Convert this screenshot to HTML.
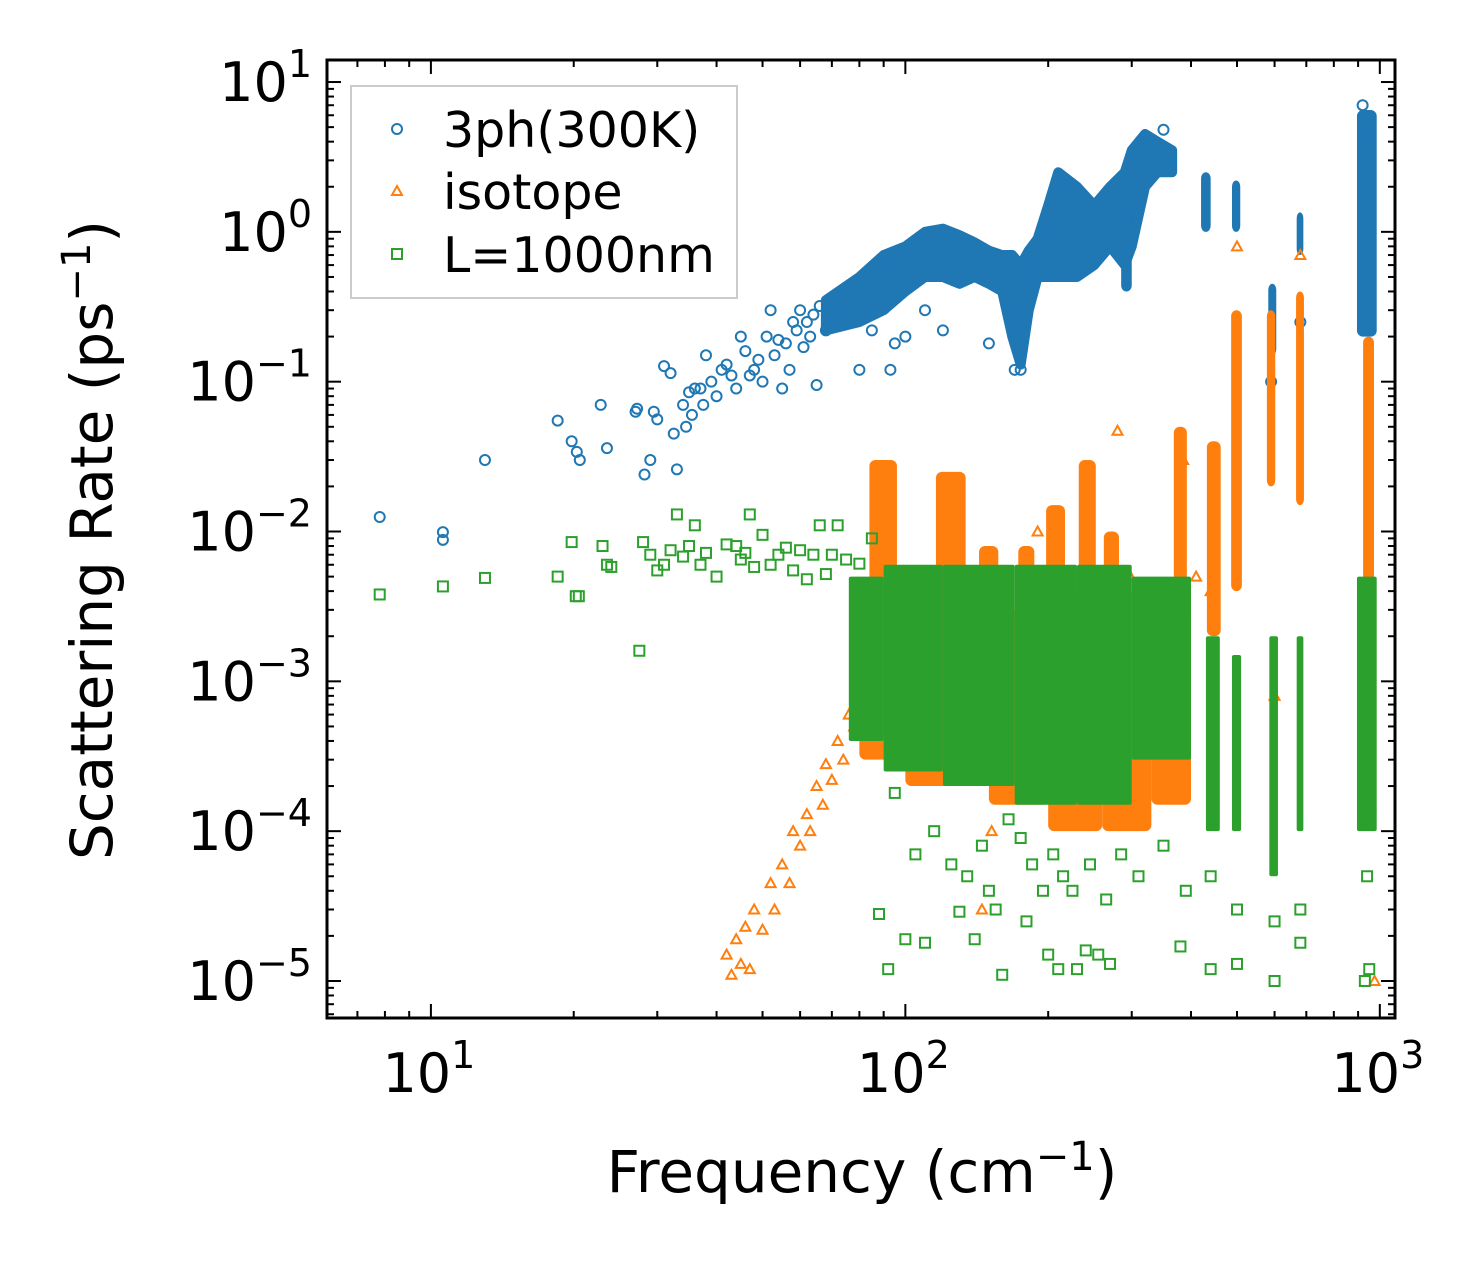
<!DOCTYPE html>
<html><head><meta charset="utf-8">
<style>
html,body{margin:0;padding:0;background:#fff;}
svg{display:block;font-family:"DejaVu Sans","Liberation Sans",sans-serif;}
</style></head>
<body>
<svg id="chart" width="1459" height="1267" viewBox="0 0 1459 1267" xmlns="http://www.w3.org/2000/svg">
<rect width="1459" height="1267" fill="#fff"/>
<g id="marks"></g>
<g id="axes"></g>
<text x="862" y="1192" font-size="58" text-anchor="middle">Frequency (cm<tspan dy="-22" font-size="40">−1</tspan><tspan dy="22">)</tspan></text>
<text transform="translate(112,540) rotate(-90)" font-size="58" text-anchor="middle">Scattering Rate (ps<tspan dy="-22" font-size="40">−1</tspan><tspan dy="22">)</tspan></text>
<g>
<rect x="351" y="86" width="386" height="212" fill="#fff" fill-opacity="0.8" stroke="#ccc" stroke-width="2"/>
<g><circle cx="397" cy="129" r="5" fill="none" stroke="#1f77b4" stroke-width="2"/><text x="443" y="147" font-size="49">3ph(300K)</text></g>
<g><polygon points="397,186 402,195 392,195" fill="none" stroke="#ff7f0e" stroke-width="2"/><text x="443" y="209" font-size="49">isotope</text></g>
<g><rect x="392" y="249" width="10" height="10" fill="none" stroke="#2ca02c" stroke-width="2"/><text x="443" y="272" font-size="49">L=1000nm</text></g>
</g>
</svg>
<script>
// axis domain
const xLogMin = 0.781, xLogMax = 3.032, yLogMin = -5.247, yLogMax = 1.147;
const xTickExp = [1,2,3];
const yTickExp = [1,0,-1,-2,-3,-4,-5];
// blue (3ph) envelope: freq, low, high
const blueEnvF  = [68,80,90,100,110,120,130,140,150,160,168,175,182,190,200,210,230,250,270,290,300,320,340,365];
const blueEnvLo = [0.22,0.25,0.3,0.4,0.5,0.5,0.45,0.5,0.45,0.4,0.2,0.13,0.3,0.5,0.5,0.5,0.5,0.6,0.8,0.6,0.8,2.0,2.5,2.5];
const blueEnvHi = [0.35,0.5,0.7,0.8,1.0,1.05,0.95,0.85,0.75,0.7,0.7,0.6,0.75,0.9,1.5,2.5,2.0,1.5,2.0,2.5,3.5,4.5,4.0,3.5];
// blue column bands: fLo,fHi,vLo,vHi
const blueBandF1 = [285,420,488,582,668,895];
const blueBandF2 = [300,440,508,605,690,985];
const blueBandV1 = [0.4,1.0,1.0,0.15,0.7,0.2];
const blueBandV2 = [1.5,2.5,2.2,0.45,1.35,6.5];
// sparse blue points
const blueF = [7.8,10.6,10.6,13,18.5,19.8,20.3,20.6,22.8,23.5,27,27.2,28.2,29,29.5,30,31,32,32.5,33,34,34.5,35,35.5,36,37,37.5,38,39,40,41,42,43,44,45,46,47,48,49,50,51,52,53,54,55,56,57,58,59,60,61,62,63,64,65,66,68,70,72,75,80,85,93,95,100,110,120,150,170,175,350,590,680,920,940];
const blueV = [0.0125,0.0099,0.0088,0.03,0.055,0.04,0.034,0.03,0.07,0.036,0.063,0.066,0.024,0.03,0.063,0.056,0.127,0.114,0.045,0.026,0.07,0.05,0.085,0.06,0.09,0.09,0.07,0.15,0.1,0.08,0.12,0.13,0.11,0.09,0.2,0.16,0.11,0.12,0.14,0.1,0.2,0.3,0.15,0.19,0.09,0.18,0.12,0.25,0.22,0.3,0.17,0.25,0.2,0.28,0.095,0.32,0.22,0.26,0.3,0.35,0.12,0.22,0.12,0.18,0.2,0.3,0.22,0.18,0.12,0.12,4.8,0.1,0.25,7.0,4.5];
// orange (isotope) bands
const orBandF1 = [84,116,143,173,198,232,262,368,432,486,578,666,922,80,100,150,200,260,330];
const orBandF2 = [96,134,157,187,217,252,282,392,462,512,602,692,972,100,150,200,260,330,400];
const orBandV1 = [0.0008,0.0015,0.0015,0.0015,0.0008,0.0008,0.0015,0.0015,0.002,0.004,0.02,0.015,0.0008,3e-4,2e-4,1.5e-4,1e-4,1e-4,1.5e-4];
const orBandV2 = [0.03,0.025,0.008,0.008,0.015,0.03,0.01,0.05,0.04,0.3,0.3,0.4,0.2,0.002,0.003,0.003,0.004,0.004,0.003];
// orange sparse points
const orF = [42,43,44,45,46,47,48,50,52,53,55,57,58,60,62,63,65,67,68,70,72,74,76,78,80,82,84,145,152,168,190,260,280,298,385,410,440,500,600,680,955,975];
const orV = [1.5e-5,1.1e-5,1.9e-5,1.3e-5,2.3e-5,1.2e-5,3e-5,2.2e-5,4.5e-5,3e-5,6e-5,4.5e-5,1e-4,8e-5,1.3e-4,1e-4,2e-4,1.5e-4,2.8e-4,2.2e-4,4e-4,3e-4,6e-4,5e-4,8e-4,1e-3,7e-4,3e-5,1e-4,4.5e-4,0.01,0.005,0.047,0.005,0.03,0.005,0.004,0.8,0.0008,0.7,1.5e-4,1e-5];
// green (boundary) bands
const grBandF1 = [76,90,120,170,230,300,430,488,585,668,895];
const grBandF2 = [90,120,170,230,300,400,460,510,610,690,985];
const grBandV1 = [4e-4,2.5e-4,2e-4,1.5e-4,1.5e-4,3e-4,1e-4,1e-4,5e-5,1e-4,1e-4];
const grBandV2 = [5e-3,6e-3,6e-3,6e-3,6e-3,5e-3,2e-3,1.5e-3,2e-3,2e-3,5e-3];
// green sparse points
const grF = [7.8,10.6,13,18.5,19.8,20.2,20.5,23,23.5,24,27.5,28,29,30,31,32,33,34,35,36,37,38,40,42,44,45,46,47,48,50,52,54,56,58,60,62,64,66,68,70,72,75,80,85,88,92,95,100,110,130,140,150,160,180,200,210,230,240,255,270,380,440,500,600,680,930,950,105,115,125,135,145,155,165,175,185,195,205,215,225,245,265,285,310,350,390,440,500,600,680,940];
const grV = [0.0038,0.0043,0.0049,0.005,0.0085,0.0037,0.0037,0.008,0.006,0.0058,0.0016,0.0085,0.007,0.0055,0.006,0.0075,0.013,0.0068,0.008,0.011,0.006,0.0072,0.005,0.0082,0.008,0.0065,0.0072,0.013,0.0058,0.0095,0.006,0.007,0.0078,0.0055,0.0075,0.0048,0.007,0.011,0.0052,0.007,0.011,0.0065,0.0061,0.009,2.8e-5,1.2e-5,1.8e-4,1.9e-5,1.8e-5,2.9e-5,1.9e-5,4e-5,1.1e-5,2.5e-5,1.5e-5,1.2e-5,1.2e-5,1.6e-5,1.5e-5,1.3e-5,1.7e-5,1.2e-5,1.3e-5,1e-5,1.8e-5,1e-5,1.2e-5,7e-5,1e-4,6e-5,5e-5,8e-5,3e-5,1.2e-4,9e-5,6e-5,4e-5,7e-5,5e-5,4e-5,6e-5,3.5e-5,7e-5,5e-5,8e-5,4e-5,5e-5,3e-5,2.5e-5,3e-5,5e-5];

const L=327,R=1395,T=60,B=1018;
function X(f){return L+(Math.log10(f)-xLogMin)/(xLogMax-xLogMin)*(R-L);}
function Y(v){return B-(Math.log10(v)-yLogMin)/(yLogMax-yLogMin)*(B-T);}
const NS="http://www.w3.org/2000/svg";
const marks=document.getElementById('marks');
const axes=document.getElementById('axes');
function mk(tag,attrs,parent){const e=document.createElementNS(NS,tag);for(const k in attrs)e.setAttribute(k,attrs[k]);parent.appendChild(e);return e;}
const BLUE="#1f77b4",OR="#ff7f0e",GR="#2ca02c";

let pts=[];
for(let i=0;i<blueEnvF.length;i++)pts.push(X(blueEnvF[i])+","+Y(blueEnvHi[i]));
for(let i=blueEnvF.length-1;i>=0;i--)pts.push(X(blueEnvF[i])+","+Y(blueEnvLo[i]));
const env=mk('polygon',{points:pts.join(' '),fill:BLUE,stroke:BLUE,'stroke-width':10,'stroke-linejoin':'round'},marks);


function bands(f1,f2,v1,v2,col,name,op,rx){
  for(let i=0;i<f1.length;i++){
    const r=mk('rect',{x:X(f1[i]),y:Y(v2[i]),width:X(f2[i])-X(f1[i]),height:Y(v1[i])-Y(v2[i]),fill:col,'fill-opacity':op,rx:rx},marks);
    
    
  }
}
bands(blueBandF1,blueBandF2,blueBandV1,blueBandV2,BLUE,'3ph-band',1,6);
for(let i=0;i<blueF.length;i++){
  const c=mk('circle',{cx:X(blueF[i]),cy:Y(blueV[i]),r:5,fill:'none',stroke:BLUE,'stroke-width':2},marks);
  
  
}
bands(orBandF1,orBandF2,orBandV1,orBandV2,OR,'isotope-band',1,6);
for(let i=0;i<orF.length;i++){
  const x=X(orF[i]),y=Y(orV[i]);
  const p=mk('polygon',{points:`${x},${y-5} ${x+5},${y+4} ${x-5},${y+4}`,fill:'none',stroke:OR,'stroke-width':2},marks);
  
  
}
bands(grBandF1,grBandF2,grBandV1,grBandV2,GR,'boundary-band',1,2);
for(let i=0;i<grF.length;i++){
  const r=mk('rect',{x:X(grF[i])-5,y:Y(grV[i])-5,width:10,height:10,fill:'none',stroke:GR,'stroke-width':2},marks);
  
  
}

const fr=mk('rect',{x:L,y:T,width:R-L,height:B-T,fill:'none',stroke:'#000','stroke-width':3},axes);


for(let d=0;d<=3;d++){
  for(let m=1;m<10;m++){
    const f=m*Math.pow(10,d);const lg=Math.log10(f);
    if(lg<xLogMin||lg>xLogMax)continue;
    const x=X(f);const len=m==1?14:7;
    mk('line',{x1:x,y1:B,x2:x,y2:B-len,stroke:'#000','stroke-width':2},axes);
    mk('line',{x1:x,y1:T,x2:x,y2:T+len,stroke:'#000','stroke-width':2},axes);
  }
}
for(const e of xTickExp){
  const t=mk('text',{x:X(Math.pow(10,e))-2,y:1092,'font-size':54,'text-anchor':'middle'},axes);
  
  
  t.innerHTML='10<tspan dy="-24" font-size="38">'+e+'</tspan>';
}
for(let d=-6;d<=1;d++){
  for(let m=1;m<10;m++){
    const v=m*Math.pow(10,d);const lg=Math.log10(v);
    if(lg<yLogMin||lg>yLogMax)continue;
    const y=Y(v);const len=m==1?14:7;
    mk('line',{x1:L,y1:y,x2:L+len,y2:y,stroke:'#000','stroke-width':2},axes);
    mk('line',{x1:R,y1:y,x2:R-len,y2:y,stroke:'#000','stroke-width':2},axes);
  }
}
for(const e of yTickExp){
  const t=mk('text',{x:312,y:Y(Math.pow(10,e))+19,'font-size':54,'text-anchor':'end'},axes);
  
  
  t.innerHTML='10<tspan dy="-24" font-size="38">'+(e<0?'−'+(-e):e)+'</tspan>';
}
</script>
</body></html>
